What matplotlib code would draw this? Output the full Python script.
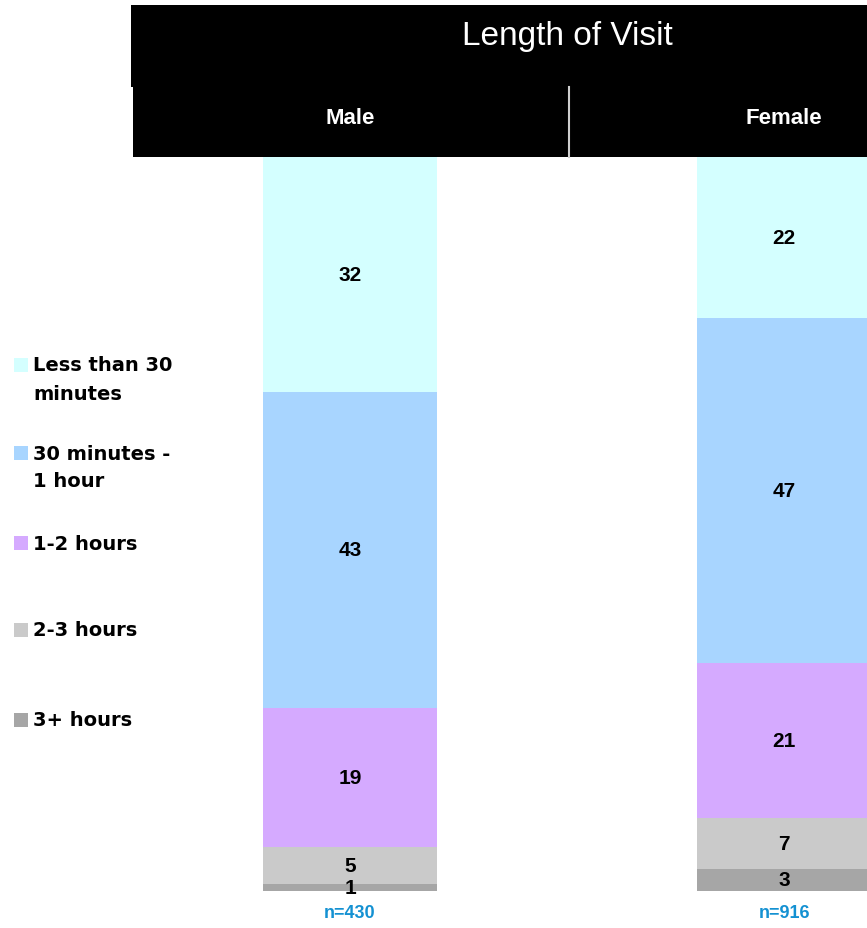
import matplotlib
matplotlib.use("Agg")
import matplotlib.pyplot as plt
from matplotlib.patches import Rectangle
from matplotlib.lines import Line2D

plt.rcParams['font.family'] = ['Liberation Sans', 'DejaVu Sans']

# Data
groups = ["Male", "Female"]
sample_sizes = ["n=430", "n=916"]
categories = ["Less than 30\nminutes", "30 minutes -\n1 hour", "1-2 hours", "2-3 hours", "3+ hours"]
less_30 = [32, 22]
min30_1h = [43, 47]
hours_1_2 = [19, 21]
hours_2_3 = [5, 7]
hours_3plus = [1, 3]
colors = ["#D4FFFF", "#A8D5FF", "#D5AAFF", "#CACACA", "#A6A6A6"]

series = [less_30, min30_1h, hours_1_2, hours_2_3, hours_3plus]

W, H = 867, 929
fig = plt.figure(figsize=(W / 100, H / 100), dpi=100)


def fx(px):
    return px / W


def fy(py):
    return 1 - py / H


# Header bands
fig.patches.append(Rectangle((fx(131), fy(88)), fx(867) - fx(131), fy(6) - fy(88),
                             transform=fig.transFigure, facecolor="black", edgecolor="none", zorder=0))
fig.patches.append(Rectangle((fx(133), fy(158)), fx(867) - fx(133), fy(88) - fy(158),
                             transform=fig.transFigure, facecolor="black", edgecolor="none", zorder=0))
fig.lines.append(Line2D([fx(569), fx(569)], [fy(88), fy(158)], transform=fig.transFigure,
                        color="#cfcfcf", lw=1.5))
fig.text(fx(567), fy(37), "Length of Visit", color="white", fontsize=24,
         ha="center", va="center")

# Bars: stacked from the bottom (3+ hours) upwards
ax = fig.add_axes([0, fy(892), 1, fy(158) - fy(892)])
x = [0, 1]
bottoms = [0, 0]
for vals, col in reversed(list(zip(series, colors))):
    ax.bar(x, vals, width=0.401, bottom=bottoms, color=col, edgecolor="none")
    for xi, v, b in zip(x, vals, bottoms):
        ax.text(xi, b + v / 2, str(v), ha="center", va="center",
                fontsize=15, fontweight="bold", color="black")
    bottoms = [b + v for b, v in zip(bottoms, vals)]

ax.set_xlim(-0.8065, 1.1912)
ax.set_ylim(0, 100)
ax.axis("off")

# Group headers and sample sizes
for xi, g, n in zip(x, groups, sample_sizes):
    xpx = ax.transData.transform((xi, 0))[0]
    fig.text(xpx / W, fy(118), g, color="white", fontsize=16, fontweight="bold",
             ha="center", va="center")
    fig.text(xpx / W, fy(914), n, color="#1491D2", fontsize=13, fontweight="bold",
             ha="center", va="center")

# Legend
legend_y = [366, 454, 544, 631, 721]
for lab, col, yy in zip(categories, colors, legend_y):
    fig.patches.append(Rectangle((fx(14), fy(yy + 7)), fx(14), fy(yy - 7) - fy(yy + 7),
                                 transform=fig.transFigure, facecolor=col, edgecolor="none"))
    for i, line in enumerate(lab.split("\n")):
        fig.text(fx(33), fy(yy + 28 * i), line, fontsize=14, fontweight="bold",
                 color="black", ha="left", va="center", family="DejaVu Sans")

fig.savefig("out.png", dpi=100)
